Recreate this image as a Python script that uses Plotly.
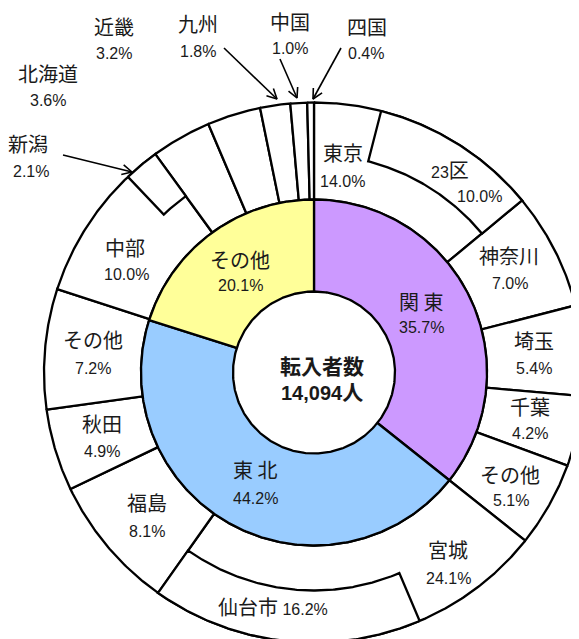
import re
import numpy as np
import plotly.graph_objects as go

# ---------------- data ----------------
total_title = "転入者数"
total_value = "14,094人"

region_names = ["関 東", "東 北", "その他"]
region_pct = [35.7, 44.2, 20.1]
region_colors = ["#CC99FF", "#99CCFF", "#FFFF99"]

pref_names = ["東京", "神奈川", "埼玉", "千葉", "その他",
              "宮城", "福島", "秋田", "その他",
              "中部", "北海道", "近畿", "九州", "中国", "四国"]
pref_pct = [14.0, 7.0, 5.4, 4.2, 5.1,
            24.1, 8.1, 4.9, 7.2,
            10.0, 3.6, 3.2, 1.8, 1.0, 0.4]

sub_names = ["23区", "仙台市", "新潟"]
sub_pct = [10.0, 16.2, 2.1]
sub_parent = ["東京", "宮城", "中部"]

# ---------------- layout constants (pixels of the page) ----------------
W, H = 579, 639
PAD = 8  # default body margin of the html page
CX, CY = 314, 372.5
R0, R1, RS, R2 = 81, 173, 218, 270
LW = 2.3
TXT = "#1a1a1a"
FONT = "Liberation Sans, Arial, Noto Sans CJK JP"

# label anchor points (name line, value line)
region_label_xy = [((421, 303), (421, 327)), ((255, 471), (255, 498)), ((240, 261), (240, 285))]
pref_label_xy = [((343, 154), (342, 181)), ((509, 257), (510, 283)), ((534, 342), (534, 368)),
                 ((530, 408), (530, 433)), ((510, 476), (511, 500)), ((448, 551), (448, 578)),
                 ((147, 504), (147, 531)), ((102, 425), (102, 451)), ((93, 341), (93, 368)),
                 ((125, 249), (126, 274)), ((48, 75), (48, 100)), ((114, 28), (114, 53)),
                 ((198, 25), (198, 51)), ((290, 23), (290, 48)), ((367, 28), (366, 53))]
sub_label_xy = [((450, 171), (479, 196)), ((273, 608), None), ((28, 145), (31, 171))]
# arrows (tail, tip) for small slices
arrow_of = {"新潟": ((63, 155), (132, 172)), "九州": ((224, 48), (277, 99)),
            "中国": ((280, 59), (297, 98)), "四国": ((341, 48), (313, 99))}


def pt(theta, r):
    t = np.radians(theta)
    return CX + r * np.sin(t), CY - r * np.cos(t)


def seg(a0, a1, rin, rout):
    n = max(3, int(abs(a1 - a0) / 0.4) + 2)
    th = np.linspace(a0, a1, n)
    xo, yo = pt(th, rout)
    if rin > 0:
        xi, yi = pt(th[::-1], rin)
    else:
        xi, yi = np.array([CX]), np.array([CY])
    x = np.concatenate([xo, xi, xo[:1]])
    y = np.concatenate([yo, yi, yo[:1]])
    return x, y


def add_poly(fig, x, y, fill):
    fig.add_trace(go.Scatter(x=x, y=y, mode="lines", fill="toself", fillcolor=fill,
                             line=dict(color="black", width=LW), hoverinfo="skip",
                             showlegend=False))


def rich(s, cjk=20):
    return re.sub(r"([^\x00-\x7f]+)", lambda m: f"<span style='font-size:{cjk}px'>{m.group(1)}</span>", s)


fig = go.Figure()

# middle ring
cum = np.concatenate([[0], np.cumsum(pref_pct)]) / sum(pref_pct) * 360
for i in range(len(pref_names)):
    add_poly(fig, *seg(cum[i], cum[i + 1], R1, R2), "white")

# sub boxes (outer part, at the end of the parent slice)
for name, p, parent in zip(sub_names, sub_pct, sub_parent):
    j = pref_names.index(parent)
    a1 = cum[j + 1]
    a0 = a1 - p / sum(pref_pct) * 360
    add_poly(fig, *seg(a0, a1, RS, R2), "white")

# inner ring
rc = np.concatenate([[0], np.cumsum(region_pct)]) / sum(region_pct) * 360
for i in range(len(region_names)):
    add_poly(fig, *seg(rc[i], rc[i + 1], 0, R1), region_colors[i])

# centre hole
cx, cy = pt(np.linspace(0, 360, 400), R0)
add_poly(fig, cx, cy, "white")

# arrows
for name, ((tx, ty), (hx, hy)) in arrow_of.items():
    ang = np.arctan2(ty - hy, tx - hx)
    L, a = 11, np.radians(27)
    w1 = (hx + L * np.cos(ang + a), hy + L * np.sin(ang + a))
    w2 = (hx + L * np.cos(ang - a), hy + L * np.sin(ang - a))
    fig.add_trace(go.Scatter(x=[tx, hx, None, w1[0], hx, w2[0]],
                             y=[ty, hy, None, w1[1], hy, w2[1]], mode="lines",
                             line=dict(color="black", width=1.6), hoverinfo="skip",
                             showlegend=False))

ann = []


def label(x, y, text, size=16, bold=False):
    t = f"<b>{text}</b>" if bold else text
    ann.append(dict(x=x, y=y, xref="x", yref="y", text=t, showarrow=False,
                    xanchor="center", yanchor="middle",
                    font=dict(family=FONT, size=size, color=TXT)))


for name, p, (nxy, vxy) in zip(region_names, region_pct, region_label_xy):
    label(*nxy, rich(name))
    label(*vxy, f"{p:.1f}%")

for name, p, (nxy, vxy) in zip(pref_names, pref_pct, pref_label_xy):
    label(*nxy, rich(name))
    label(*vxy, f"{p:.1f}%")

for name, p, (nxy, vxy) in zip(sub_names, sub_pct, sub_label_xy):
    if vxy is None:
        label(*nxy, rich(name) + f" {p:.1f}%")
    else:
        label(*nxy, rich(name))
        label(*vxy, f"{p:.1f}%")

label(322, 366, rich(total_title, 21), size=20, bold=True)
label(322, 392, rich(total_value, 21), size=20, bold=True)

fig.update_layout(
    width=W - PAD, height=H - PAD, autosize=False,
    margin=dict(l=0, r=0, t=0, b=0),
    paper_bgcolor="white", plot_bgcolor="white",
    xaxis=dict(range=[PAD, W], visible=False, fixedrange=True),
    yaxis=dict(range=[H, PAD], visible=False, fixedrange=True),
    annotations=ann, showlegend=False,
)

fig.write_html("out.html")
